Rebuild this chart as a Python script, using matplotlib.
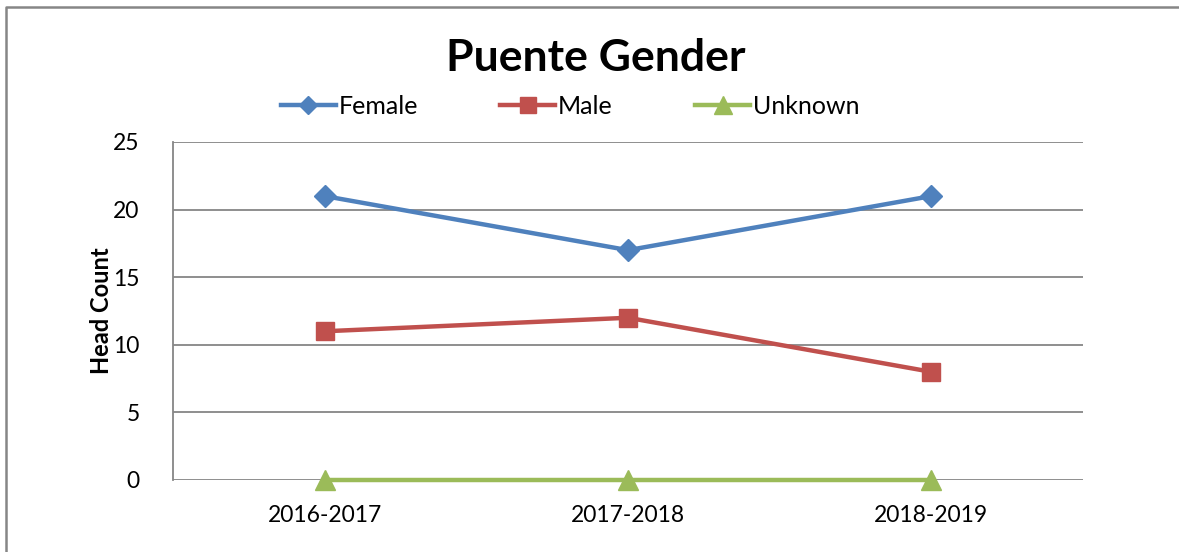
import matplotlib

matplotlib.use("Agg")
import matplotlib.pyplot as plt
from matplotlib.lines import Line2D

plt.rcParams["font.family"] = ["Lato", "DejaVu Sans"]

years = ["2016-2017", "2017-2018", "2018-2019"]
female = [21, 17, 21]
male = [11, 12, 8]
unknown = [0, 0, 0]
y_ticks = [0, 5, 10, 15, 20, 25]

W, H = 1179, 552
fig = plt.figure(figsize=(W / 100, H / 100), dpi=100)

# outer chart frame: only the left and top edges are in the picture
frame_x = [6 / W, 6 / W, 1.0]
frame_y = [0.0, 1 - 7 / H, 1 - 7 / H]
fig.lines.append(Line2D(frame_x, frame_y, transform=fig.transFigure,
                        color="#868686", linewidth=1.8))

ax = fig.add_axes([173 / W, 1 - 480 / H, (1083 - 173) / W, (480 - 142) / H])

x = range(len(years))
ax.plot(x, female, color="#4F81BD", lw=3.2, marker="D", ms=11, label="Female", zorder=4)
ax.plot(x, male, color="#C0504D", lw=3.2, marker="s", ms=13, label="Male", zorder=4)
ax.plot(x, unknown, color="#9BBB59", lw=3.2, marker="^", ms=15, label="Unknown", zorder=4,
        clip_on=False)

ax.set_xlim(-0.5, len(years) - 0.5)
ax.set_ylim(0, 25)
ax.set_yticks(y_ticks)
ax.set_xticks(list(x))
ax.set_xticklabels(years)
ax.grid(axis="y", color="#868686", lw=1.3)
ax.set_axisbelow(True)
for side in ["top", "right", "bottom"]:
    ax.spines[side].set_visible(False)
ax.spines["left"].set_color("#868686")
ax.spines["left"].set_linewidth(1.3)
ax.tick_params(length=0, labelsize=16.5)
ax.tick_params(axis="x", pad=18)
ax.tick_params(axis="y", pad=24)
ax.set_ylabel("Head Count", fontsize=17, fontweight="bold", labelpad=0)

fig.text(596 / W, 1 - 58 / H, "Puente Gender", ha="center", va="center",
         fontsize=32, fontweight="bold")
fig.legend(loc="center", bbox_to_anchor=(570 / W, 1 - 106 / H), ncol=3, frameon=False,
           fontsize=18, handlelength=2.2, handletextpad=0.1, columnspacing=3.3,
           borderpad=0, markerscale=0.85)

fig.savefig("out.png", dpi=100)
